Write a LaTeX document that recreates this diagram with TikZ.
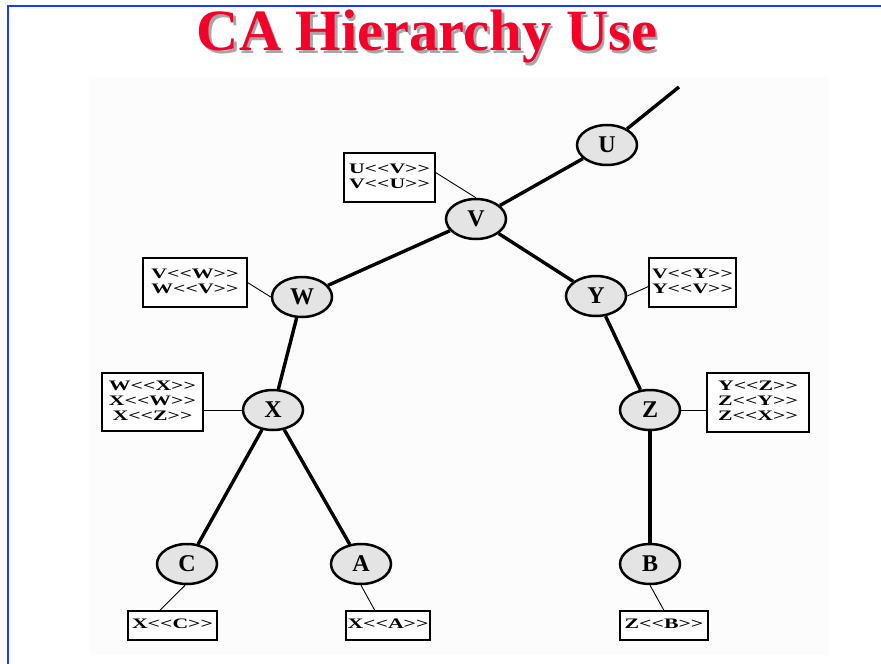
\documentclass[tikz,border=0pt]{standalone}
\usepackage{fontspec}
\setmainfont{Liberation Serif}
\usetikzlibrary{calc,shapes.geometric}
\definecolor{framecol}{RGB}{25,60,250}
\definecolor{titlered}{RGB}{245,0,40}
\definecolor{nodefill}{RGB}{228,228,228}
\definecolor{bgpanel}{RGB}{252,252,252}
\newcommand{\lbx}[1]{\scalebox{1.5}[1]{\begin{tabular}{@{}c@{}}#1\end{tabular}}}
\newcommand{\lt}{<{}<}
\newcommand{\gt}{>{}>}
\tikzset{
  ca/.style={ellipse, draw=black, line width=2.5pt, fill=nodefill, minimum width=60pt, minimum height=40pt, inner sep=0pt, font=\fontsize{24}{26}\selectfont\bfseries},
  certbox/.style={draw=black, line width=1.1pt, fill=white, inner sep=0pt, font=\fontsize{14.5}{15}\selectfont\bfseries},
  tree/.style={line width=3.4pt},
  link/.style={line width=0.9pt},
  titlefont/.style={anchor=base, font=\fontsize{58.5}{60}\selectfont\bfseries},
}
\begin{document}
\begin{tikzpicture}[x=1pt,y=-1pt]
\useasboundingbox (0,0) rectangle (881,664);
% faint panel
\fill[bgpanel] (89,77) rectangle (829,655);
% frame
\draw[framecol, line width=2.5pt] (881,6) -- (8,6) -- (8,664);
% title
\node[titlefont, text=gray!70] (titleshadow) at (429.5,53) {CA Hierarchy Use};
\node[titlefont, text=titlered] (title) at (427,50.5) {CA Hierarchy Use};
% CA nodes
\node[ca] (U) at (607,145) {U};
\node[ca] (V) at (476,219) {V};
\node[ca] (W) at (302,297) {W};
\node[ca] (X) at (273,410) {X};
\node[ca] (Y) at (596,296) {Y};
\node[ca] (Z) at (650,410) {Z};
\node[ca] (C) at (187,564) {C};
\node[ca] (A) at (361,564) {A};
\node[ca] (B) at (650,564) {B};
\coordinate (top) at (679,87);
% tree edges
\draw[tree] (U) -- (top);
\draw[tree] (V) -- (U);
\draw[tree] (V) -- (W);
\draw[tree] (V) -- (Y);
\draw[tree] (W) -- (X);
\draw[tree] (Y) -- (Z);
\draw[tree] (X) -- (C);
\draw[tree] (X) -- (A);
\draw[tree] (Z) -- (B);
% certificate boxes
\node[certbox, minimum width=91pt, minimum height=49pt] (uvbox) at (389.5,177.5) {\lbx{U\lt V\gt\\V\lt U\gt}};
\node[certbox, minimum width=104pt, minimum height=49pt] (vwbox) at (195,282.5) {\lbx{V\lt W\gt\\W\lt V\gt}};
\node[certbox, minimum width=101pt, minimum height=58pt] (wxbox) at (152.5,402) {\lbx{W\lt X\gt\\X\lt W\gt\\X\lt Z\gt}};
\node[certbox, minimum width=87pt, minimum height=49pt] (vybox) at (692.5,282.5) {\lbx{V\lt Y\gt\\Y\lt V\gt}};
\node[certbox, minimum width=102pt, minimum height=59pt] (yzbox) at (758,402.5) {\lbx{Y\lt Z\gt\\Z\lt Y\gt\\Z\lt X\gt}};
\node[certbox, minimum width=89pt, minimum height=29pt] (xcbox) at (172.5,625.5) {\lbx{X\lt C\gt}};
\node[certbox, minimum width=84pt, minimum height=29pt] (xabox) at (388,625.5) {\lbx{X\lt A\gt}};
\node[certbox, minimum width=88pt, minimum height=29pt] (zbbox) at (664,625.5) {\lbx{Z\lt B\gt}};
% thin links
\draw[link] ($(uvbox.north east)!0.4!(uvbox.south east)$) -- (V.north);
\draw[link] (vwbox.east) -- (W.west);
\draw[link] (X.west) -- (X.west -| wxbox.east);
\draw[link] ($(vybox.north west)!0.58!(vybox.south west)$) -- (Y.east);
\draw[link] (Z.east) -- (Z.east -| yzbox.west);
\draw[link] ($(xcbox.north west)!0.36!(xcbox.north east)$) -- (C.265);
\draw[link] ($(xabox.north west)!0.345!(xabox.north east)$) -- (A.south);
\draw[link] (zbbox.north) -- (B.south);
\end{tikzpicture}
\end{document}
